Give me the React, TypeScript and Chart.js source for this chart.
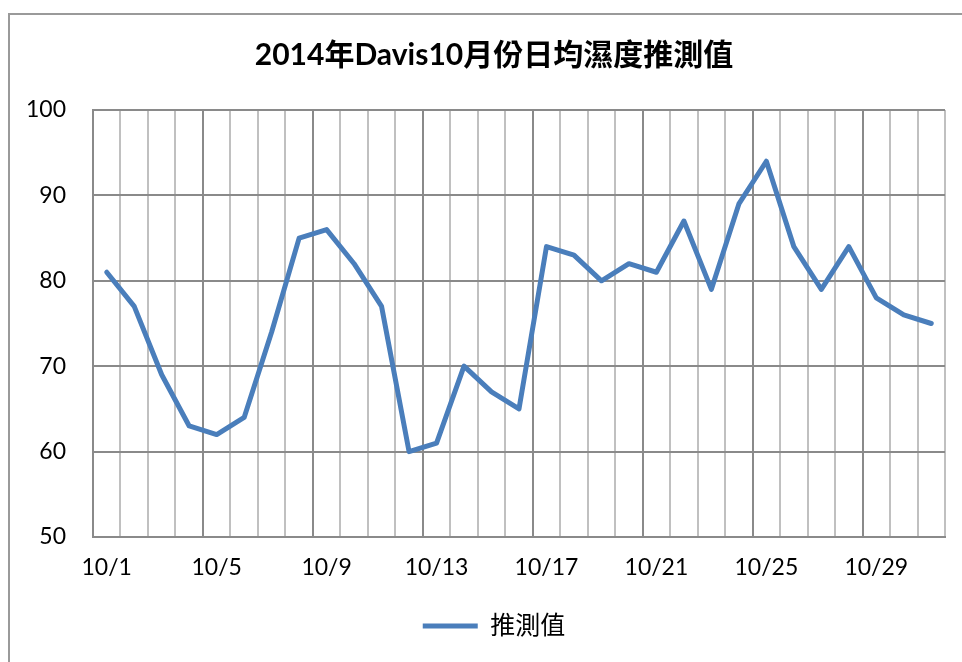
import React, { useEffect, useRef } from "react";
import { Chart, registerables } from "chart.js";

Chart.register(...registerables);

const TITLE = "2014年Davis10月份日均濕度推測值";
const SERIES_NAME = "推測值";
const DAYS = [
  "10/1", "10/2", "10/3", "10/4", "10/5", "10/6", "10/7", "10/8", "10/9", "10/10",
  "10/11", "10/12", "10/13", "10/14", "10/15", "10/16", "10/17", "10/18", "10/19", "10/20",
  "10/21", "10/22", "10/23", "10/24", "10/25", "10/26", "10/27", "10/28", "10/29", "10/30", "10/31",
];
const HUMIDITY = [
  81, 77, 69, 63, 62, 64, 74, 85, 86, 82,
  77, 60, 61, 70, 67, 65, 84, 83, 80, 82,
  81, 87, 79, 89, 94, 84, 79, 84, 78, 76, 75,
];
const Y_MIN = 50;
const Y_MAX = 100;
const Y_STEP = 10;

const FONT = "Lato, 'Noto Sans CJK TC', sans-serif";

const widenLabelArea = {
  id: "widenLabelArea",
  afterLayout(chart: any) {
    const y = chart.scales.y;
    if (y) y.left = 0;
  },
};

export default function App() {
  const ref = useRef<HTMLCanvasElement | null>(null);

  useEffect(() => {
    if (!ref.current) return;
    const chart = new Chart(ref.current, {
      type: "line",
      data: {
        labels: DAYS,
        datasets: [
          {
            label: SERIES_NAME,
            data: HUMIDITY,
            borderColor: "#4a7ebb",
            backgroundColor: "#4a7ebb",
            borderWidth: 5,
            pointRadius: 0,
            pointHoverRadius: 0,
            tension: 0,
            borderJoinStyle: "round",
            borderCapStyle: "round",
            fill: false,
          },
        ],
      },
      plugins: [widenLabelArea],
      options: {
        responsive: false,
        animation: false,
        events: [],
        layout: { padding: { left: 43, right: 43, top: 0, bottom: 13.5 } },
        plugins: {
          title: {
            display: true,
            text: TITLE,
            color: "#000",
            font: { family: FONT, size: 30, weight: "bold", lineHeight: 1.2 },
            padding: { top: 37, bottom: 37 },
          },
          legend: {
            display: true,
            position: "bottom",
            labels: {
              color: "#000",
              font: { family: FONT, size: 25 },
              usePointStyle: true,
              pointStyle: "line",
              pointStyleWidth: 55,
              padding: 10,
            },
          },
          tooltip: { enabled: false },
        },
        scales: {
          x: {
            type: "category",
            offset: true,
            grid: {
              offset: true,
              drawTicks: false,
              lineWidth: 2,
              color: (ctx: any) => (ctx.index % 4 === 0 ? "#8a8a8a" : "#c0c0c0"),
            },
            border: { display: true, color: "#8a8a8a", width: 2 },
            ticks: {
              autoSkip: false,
              maxRotation: 0,
              color: "#000",
              padding: 17,
              font: { family: FONT, size: 23 },
              callback: (_v: any, i: number) => (i % 4 === 0 ? DAYS[i] : ""),
            },
            afterFit: (scale: any) => {
              scale.height = 66.5;
            },
          },
          y: {
            min: Y_MIN,
            max: Y_MAX,
            grid: { drawTicks: false, lineWidth: 2, color: "#8a8a8a" },
            border: { display: true, color: "#8a8a8a", width: 2 },
            ticks: {
              stepSize: Y_STEP,
              color: "#000",
              padding: 27,
              font: { family: FONT, size: 23 },
            },
            afterFit: (scale: any) => {
              scale.width = 50;
            },
          },
        },
      },
    });
    return () => chart.destroy();
  }, []);

  return (
    <div
      style={{
        position: "fixed",
        left: 0,
        top: 0,
        width: 962,
        height: 662,
        overflow: "hidden",
        background: "#fff",
      }}
    >
      <div
        style={{
          position: "absolute",
          left: 8,
          top: 13,
          width: 2000,
          height: 2000,
          borderLeft: "2px solid #9a9a9a",
          borderTop: "2px solid #9a9a9a",
        }}
      />
      <canvas
        ref={ref}
        width={988}
        height={662}
        style={{ position: "absolute", left: 0, top: 0, width: 988, height: 662 }}
      />
    </div>
  );
}
